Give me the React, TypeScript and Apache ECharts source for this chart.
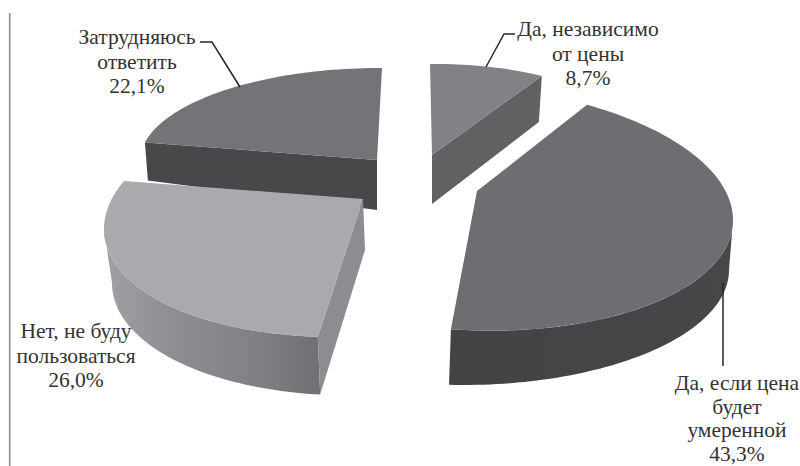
import React, { useEffect, useRef } from "react";
import * as echarts from "echarts";

// Data, clockwise from 12 o'clock
const categories = [
  "Да, независимо\nот цены",
  "Да, если цена\nбудет\nумеренной",
  "Нет, не буду\nпользоваться",
  "Затрудняюсь\nответить",
];
const values = [8.7, 43.3, 26.0, 22.1];

// Projection of each exploded slice of the 3D pie
type Frame = { c: number[]; u: number[]; v: number[] };
type Geo = {
  top: Frame; bottom: Frame;
  apexTop: number[]; apexBottom: number[];
  adj: number[];
  topFill: string; outer: any; endWall: string | null; startWall: string | null;
};
const grad = (stops: [number, string][]) =>
  new echarts.graphic.LinearGradient(0, 0, 1, 0, stops.map(([offset, color]) => ({ offset, color })));

const geometry: Geo[] = [
  {
    top: { c: [432, 155], u: [214.8, -2.5], v: [-2, -91] },
    bottom: { c: [432, 204], u: [205.8, -9.8], v: [0, -90] },
    apexTop: [432, 155], apexBottom: [432, 204], adj: [0, 0],
    topFill: "#818285", outer: "#616163", startWall: null, endWall: "#616163",
  },
  {
    top: { c: [465, 208], u: [268, 12], v: [0, -122] },
    bottom: { c: [463, 270], u: [266, 0], v: [0, -115] },
    apexTop: [477, 191], apexBottom: [477, 248], adj: [-4.2, -4],
    topFill: "#6d6e71",
    outer: grad([[0, "#434345"], [0.6, "#454547"], [1, "#47474a"]]),
    startWall: null, endWall: null,
  },
  {
    top: { c: [370, 213], u: [266, -16], v: [0, -123] },
    bottom: { c: [371, 273], u: [259, -10], v: [0, -122] },
    apexTop: [363, 199], apexBottom: [365, 250], adj: [4.3, 11.8],
    topFill: "#a9aaad",
    outer: grad([[0, "#a0a1a5"], [0.3, "#8e8f93"], [0.65, "#828387"], [1, "#6f7074"]]),
    startWall: "#8c8d91", endWall: null,
  },
  {
    top: { c: [377, 160], u: [237, 0.8], v: [5, -92] },
    bottom: { c: [377, 210], u: [233, 13], v: [0, -92] },
    apexTop: [377, 160], apexBottom: [377, 210], adj: [0, 0],
    topFill: "#737477", outer: "#48484a", startWall: "#48484a", endWall: null,
  },
];

const labelPos = [
  [588, 17], [737, 371], [76, 319], [137, 25],
];
const labelLineHeight = [24.5, 23.7, 24.5, 24.5];
const leaders = [
  [[515, 34], [504, 34], [486, 67]],
  [[723, 283], [723, 366]],
  null,
  [[200, 42], [212, 42], [240, 87]],
];

const total = values.reduce((a, b) => a + b, 0);
const bounds = values.reduce<number[]>((acc, v) => { acc.push(acc[acc.length - 1] + (v / total) * 360); return acc; }, [0]);
const fmt = (v: number) => v.toFixed(1).replace(".", ",") + "%";
const at = (f: Frame, deg: number) => {
  const r = (deg * Math.PI) / 180, s = Math.sin(r), k = Math.cos(r);
  return [f.c[0] + s * f.u[0] + k * f.v[0], f.c[1] + s * f.u[1] + k * f.v[1]];
};
const arc = (f: Frame, a: number, b: number) => {
  const pts: number[][] = [];
  const n = Math.max(8, Math.ceil(Math.abs(b - a) / 1.5));
  for (let i = 0; i <= n; i++) pts.push(at(f, a + ((b - a) * i) / n));
  return pts;
};

function renderItem(params: any) {
  const i = values.length - 1 - params.dataIndex;
  const g = geometry[i];
  const a = bounds[i] + g.adj[0];
  const b = bounds[i + 1] + g.adj[1];
  const topArc = arc(g.top, a, b);
  const botArc = arc(g.bottom, a, b);
  const children: any[] = [];
  const poly = (points: number[][], fill: any) =>
    children.push({ type: "polygon", shape: { points }, style: { fill, stroke: null } });
  // the outer wall only shows on the front half of the rim
  const fa = Math.max(a, 90), fb = Math.min(b, 270);
  if (fb > fa) poly([...arc(g.top, fa, fb), ...arc(g.bottom, fa, fb).reverse()], g.outer);
  if (g.endWall) poly([topArc[topArc.length - 1], g.apexTop, g.apexBottom, botArc[botArc.length - 1]], g.endWall);
  if (g.startWall) poly([topArc[0], g.apexTop, g.apexBottom, botArc[0]], g.startWall);
  poly([g.apexTop, ...topArc], g.topFill);
  return { type: "group", children };
}

const textStyle = { fontFamily: "Liberation Serif", fontSize: 21.5, fill: "#333333", textAlign: "center", textVerticalAlign: "top" };

export default function App() {
  const ref = useRef<HTMLDivElement>(null);
  useEffect(() => {
    const chart = echarts.init(ref.current!, null, { renderer: "svg" });
    const graphic: any[] = [
      { type: "line", z: 10, shape: { x1: 9.7, y1: 13, x2: 9.7, y2: 466 }, style: { stroke: "#8a8b90", lineWidth: 1.6 } },
    ];
    leaders.forEach((pts) => {
      if (pts) graphic.push({ type: "polyline", z: 10, shape: { points: pts }, style: { stroke: "#26262a", lineWidth: 1.5, fill: null } });
    });
    categories.forEach((c, i) => {
      graphic.push({
        type: "text", z: 11, x: labelPos[i][0], y: labelPos[i][1],
        style: { ...textStyle, lineHeight: labelLineHeight[i], text: c + "\n" + fmt(values[i]) },
      });
    });
    chart.setOption({
      animation: false,
      backgroundColor: "#ffffff",
      series: [{
        type: "custom",
        coordinateSystem: "none",
        renderItem,
        silent: true,
        data: values.slice().reverse().map((v) => [v]),
      }],
      graphic,
    });
    return () => chart.dispose();
  }, []);
  return <div ref={ref} style={{ position: "fixed", left: 0, top: 0, width: 800, height: 466 }} />;
}
